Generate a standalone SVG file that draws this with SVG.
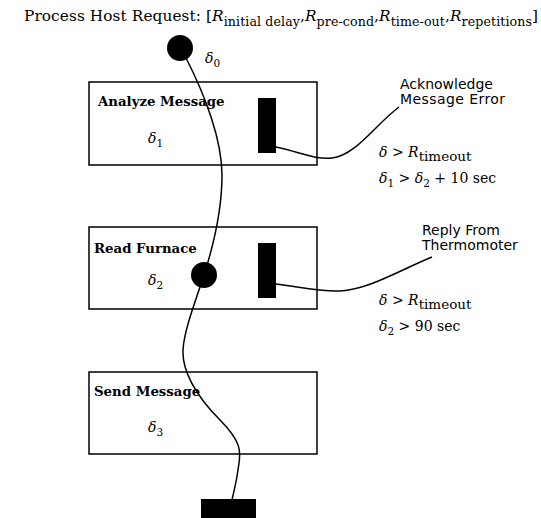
<svg xmlns="http://www.w3.org/2000/svg" width="541" height="518" viewBox="0 0 541 518">
  <style>
    .box { fill: #fff; stroke: #000; stroke-width: 1.5; }
    .bar { fill: #000; }
    .wire { fill: none; stroke: #000; stroke-width: 1.5; }
    .title { font-family: "DejaVu Serif", "Liberation Serif", serif; font-size: 15.3px; fill: #000; }
    .tsub { font-size: 12.6px; }
    .name { font-family: "DejaVu Serif", "Liberation Serif", serif; font-size: 13.3px; font-weight: bold; fill: #000; }
    .math { font-family: "DejaVu Serif", "Liberation Serif", serif; font-size: 14px; fill: #000; }
    .it { font-style: italic; }
    .sub { font-size: 10.5px; }
    .wsub { font-size: 13.5px; }
    .note { font-family: "DejaVu Sans", "Liberation Sans", sans-serif; font-size: 14px; fill: #000; }
  </style>

  <!-- heading with request parameters -->
  <text class="title" x="24" y="21" textLength="514" lengthAdjust="spacing">Process Host Request: [<tspan class="it">R</tspan><tspan class="tsub" dy="5">initial delay</tspan><tspan dy="-5">,</tspan><tspan class="it">R</tspan><tspan class="tsub" dy="5">pre-cond</tspan><tspan dy="-5">,</tspan><tspan class="it">R</tspan><tspan class="tsub" dy="5">time-out</tspan><tspan dy="-5">,</tspan><tspan class="it">R</tspan><tspan class="tsub" dy="5">repetitions</tspan><tspan dy="-5">]</tspan></text>

  <g id="analyze-message">
    <rect class="box" x="89" y="82" width="228" height="83"/>
    <text class="name" x="98" y="106">Analyze Message</text>
    <text class="math" x="148" y="143"><tspan class="it">δ</tspan><tspan class="sub" dy="4">1</tspan></text>
    <rect class="bar" x="258" y="98" width="18" height="55"/>
  </g>

  <g id="read-furnace">
    <rect class="box" x="89" y="227" width="228" height="82"/>
    <text class="name" x="94" y="253">Read Furnace</text>
    <text class="math" x="148" y="285"><tspan class="it">δ</tspan><tspan class="sub" dy="4">2</tspan></text>
    <rect class="bar" x="258" y="243" width="18" height="55"/>
  </g>

  <g id="send-message">
    <rect class="box" x="89" y="372" width="228" height="82"/>
    <text class="name" x="94" y="396">Send Message</text>
    <text class="math" x="148" y="432"><tspan class="it">δ</tspan><tspan class="sub" dy="4">3</tspan></text>
  </g>

  <g id="end">
    <rect class="bar" x="201" y="499" width="55" height="19"/>
  </g>

  <g id="acknowledge-error">
    <text class="note" x="400" y="89">Acknowledge</text>
    <text class="note" x="400" y="104" textLength="105">Message Error</text>
    <text class="math" x="379" y="157"><tspan class="it">δ</tspan> &gt; <tspan class="it">R</tspan><tspan class="wsub" dy="4">timeout</tspan></text>
    <text class="math" x="379" y="183"><tspan class="it">δ</tspan><tspan class="sub" dy="4">1</tspan><tspan dy="-4"> &gt; </tspan><tspan class="it">δ</tspan><tspan class="sub" dy="4">2</tspan><tspan dy="-4"> + 10 sec</tspan></text>
  </g>

  <g id="reply-thermometer">
    <text class="note" x="422" y="235">Reply From</text>
    <text class="note" x="422" y="250">Thermomoter</text>
    <text class="math" x="379" y="305"><tspan class="it">δ</tspan> &gt; <tspan class="it">R</tspan><tspan class="wsub" dy="4">timeout</tspan></text>
    <text class="math" x="379" y="331"><tspan class="it">δ</tspan><tspan class="sub" dy="4">2</tspan><tspan dy="-4"> &gt; 90 sec</tspan></text>
  </g>

  <!-- start point -->
  <g id="start">
    <circle cx="180" cy="48" r="13" fill="#000"/>
    <text class="math" x="205" y="63"><tspan class="it">δ</tspan><tspan class="sub" dy="4">0</tspan></text>
  </g>

  <g id="connectors">
    <path class="wire" d="M186,58 C205,95 222,140 222,175 S212,250 204,275 S184,330 183,350 S195,395 220,420 S240,455 238,470 S234,490 232,500"/>
    <path class="wire" d="M276,147 C300,152 315,160 332,158 C355,156 375,125 399,107"/>
    <path class="wire" d="M276,284 C300,287 320,292 340,291 C370,289 400,270 432,257"/>
  </g>

  <!-- checkpoint on the path -->
  <g id="checkpoint">
    <circle cx="204" cy="275" r="13" fill="#000"/>
  </g>
</svg>
